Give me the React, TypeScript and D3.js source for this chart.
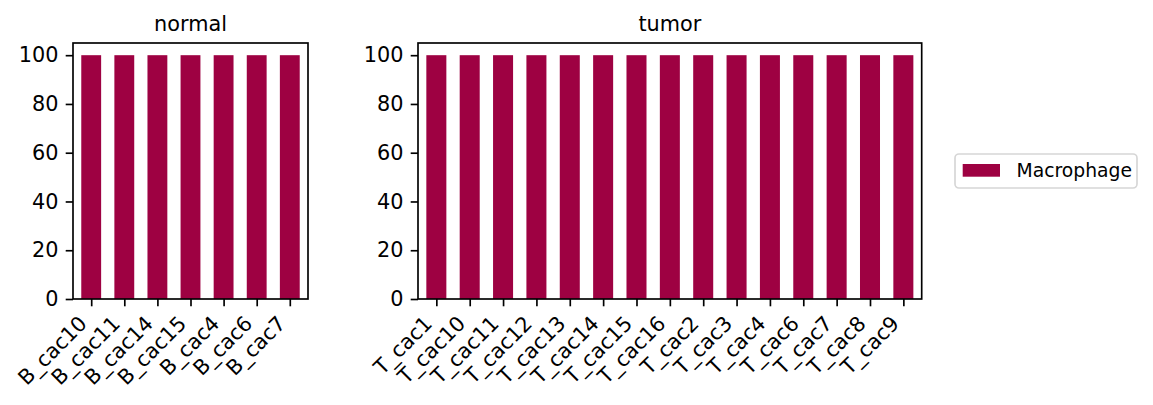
import { useRef, useEffect } from 'react';
import * as d3 from 'd3';

const normalSamples = ['B_cac10', 'B_cac11', 'B_cac14', 'B_cac15', 'B_cac4', 'B_cac6', 'B_cac7'];
const normalValues = [100, 100, 100, 100, 100, 100, 100];

const tumorSamples = [
  'T_cac1', 'T_cac10', 'T_cac11', 'T_cac12', 'T_cac13', 'T_cac14', 'T_cac15', 'T_cac16',
  'T_cac2', 'T_cac3', 'T_cac4', 'T_cac6', 'T_cac7', 'T_cac8', 'T_cac9',
];
const tumorValues = [100, 100, 100, 100, 100, 100, 100, 100, 100, 100, 100, 100, 100, 100, 100];

const yTicks = [0, 20, 40, 60, 80, 100];
const cellType = 'Macrophage';

const WIDTH = 1153;
const HEIGHT = 405;
const TOP = 43;
const BOTTOM = 299;
const BAR_COLOR = '#9e0142';
const FONT = '"DejaVu Sans", sans-serif';
const LW = 1.67;
const TICK = 7.3;

const PANELS = [
  { title: 'normal', samples: normalSamples, values: normalValues, left: 73, right: 308 },
  { title: 'tumor', samples: tumorSamples, values: tumorValues, left: 418, right: 921.7 },
];

export default function App() {
  const svgRef = useRef<SVGSVGElement>(null);

  useEffect(() => {
    if (!svgRef.current) return;
    const svg = d3.select(svgRef.current);
    svg.selectAll('*').remove();

    const y = d3.scaleLinear().domain([0, 105]).range([BOTTOM, TOP]);

    PANELS.forEach((p) => {
      const n = p.samples.length;
      const x = d3.scaleLinear().domain([-0.55, n - 1 + 0.55]).range([p.left, p.right]);
      const g = svg.append('g');

      // bars
      g.selectAll('rect.bar')
        .data(p.values)
        .join('rect')
        .attr('class', 'bar')
        .attr('x', (_, i) => x(i - 0.3))
        .attr('width', x(0.3) - x(-0.3))
        .attr('y', (d) => y(d))
        .attr('height', (d) => y(0) - y(d))
        .attr('fill', BAR_COLOR);

      // y axis
      const yAxis = g
        .append('g')
        .attr('transform', `translate(${p.left},0)`)
        .call(d3.axisLeft(y).tickValues(yTicks).tickSize(TICK).tickPadding(7.3).tickSizeOuter(0));
      yAxis.select('.domain').remove();
      yAxis.selectAll('line').attr('stroke', '#000').attr('stroke-width', LW);
      yAxis
        .selectAll('text')
        .attr('font-size', 20.8)
        .attr('font-family', FONT)
        .attr('fill', '#000');

      // x axis
      const xAxis = g
        .append('g')
        .attr('transform', `translate(0,${BOTTOM})`)
        .call(
          d3
            .axisBottom(x)
            .tickValues(d3.range(n))
            .tickFormat((d) => p.samples[d as number])
            .tickSize(TICK)
            .tickSizeOuter(0),
        );
      xAxis.select('.domain').remove();
      xAxis.selectAll('line').attr('stroke', '#000').attr('stroke-width', LW);
      xAxis
        .selectAll('text')
        .attr('x', 0)
        .attr('y', 0)
        .attr('dy', null)
        .attr('text-anchor', 'end')
        .attr('transform', 'translate(-3.5,25.8) rotate(-45)')
        .attr('font-size', 20.8)
        .attr('font-family', FONT)
        .attr('fill', '#000');

      // frame
      g.append('rect')
        .attr('x', p.left)
        .attr('y', TOP)
        .attr('width', p.right - p.left)
        .attr('height', BOTTOM - TOP)
        .attr('fill', 'none')
        .attr('stroke', '#000')
        .attr('stroke-width', LW);

      // title
      g.append('text')
        .attr('x', (p.left + p.right) / 2)
        .attr('y', 30.5)
        .attr('text-anchor', 'middle')
        .attr('font-size', 20.8)
        .attr('font-family', FONT)
        .attr('fill', '#000')
        .text(p.title);
    });

    // legend
    const lg = svg.append('g');
    lg.append('rect')
      .attr('x', 955)
      .attr('y', 154)
      .attr('width', 182)
      .attr('height', 34)
      .attr('rx', 4)
      .attr('fill', '#fff')
      .attr('stroke', '#d6d6d6')
      .attr('stroke-width', LW);
    lg.append('rect')
      .attr('x', 962.7)
      .attr('y', 164)
      .attr('width', 37.3)
      .attr('height', 12.7)
      .attr('fill', BAR_COLOR);
    lg.append('text')
      .attr('x', 1016.5)
      .attr('y', 176.7)
      .attr('font-size', 18.75)
      .attr('font-family', FONT)
      .attr('fill', '#000')
      .text(cellType);
  }, []);

  return (
    <div style={{ position: 'absolute', left: 0, top: 0, background: '#fff' }}>
      <svg ref={svgRef} width={WIDTH} height={HEIGHT} viewBox={`0 0 ${WIDTH} ${HEIGHT}`} />
    </div>
  );
}
